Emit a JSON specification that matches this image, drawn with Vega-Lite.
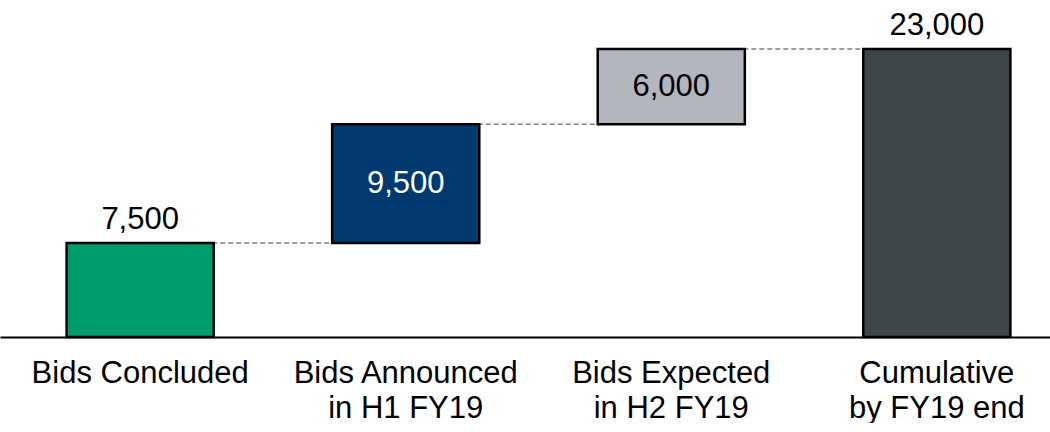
{
  "$schema": "https://vega.github.io/schema/vega-lite/v6.json",
  "width": 1050,
  "height": 337,
  "padding": 0,
  "background": "white",
  "config": {"view": {"stroke": null}, "font": "Liberation Sans"},
  "datasets": {
    "bars": [
      {"step": "Bids Concluded", "start": 0, "end": 7500, "amount": "7,500", "kind": "outside", "fill": "#009C6D", "textColor": "black"},
      {"step": "Bids Announced in H1 FY19", "start": 7500, "end": 17000, "amount": "9,500", "kind": "inside", "fill": "#003A70", "textColor": "white"},
      {"step": "Bids Expected in H2 FY19", "start": 17000, "end": 23000, "amount": "6,000", "kind": "inside", "fill": "#B3B6BC", "textColor": "black"},
      {"step": "Cumulative by FY19 end", "start": 0, "end": 23000, "amount": "23,000", "kind": "outside", "fill": "#3E4649", "textColor": "black"}
    ],
    "links": [
      {"from": "Bids Concluded", "to": "Bids Announced in H1 FY19", "level": 7500},
      {"from": "Bids Announced in H1 FY19", "to": "Bids Expected in H2 FY19", "level": 17000},
      {"from": "Bids Expected in H2 FY19", "to": "Cumulative by FY19 end", "level": 23000}
    ]
  },
  "encoding": {
    "x": {
      "field": "step",
      "type": "nominal",
      "sort": null,
      "scale": {
        "domain": ["Bids Concluded", "Bids Announced in H1 FY19", "Bids Expected in H2 FY19", "Cumulative by FY19 end"],
        "paddingInner": 0.446,
        "paddingOuter": 0.2,
        "align": 0.627
      },
      "axis": {
        "title": null,
        "ticks": false,
        "domainColor": "black",
        "domainWidth": 2,
        "labelAngle": 0,
        "labelColor": "black",
        "labelFont": "Liberation Sans",
        "labelFontSize": 31,
        "labelLimit": 0,
        "labelPadding": 21,
        "labelLineHeight": 35,
        "labelBaseline": "top",
        "labelExpr": "datum.value == 'Bids Announced in H1 FY19' ? ['Bids Announced', 'in H1 FY19'] : datum.value == 'Bids Expected in H2 FY19' ? ['Bids Expected', 'in H2 FY19'] : datum.value == 'Cumulative by FY19 end' ? ['Cumulative', 'by FY19 end'] : datum.value"
      }
    }
  },
  "layer": [
    {
      "data": {"name": "links"},
      "mark": {"type": "rule", "color": "#7F7F7F", "strokeWidth": 1.5, "strokeDash": [5, 3]},
      "encoding": {
        "x": {"field": "from", "type": "nominal"},
        "x2": {"field": "to"},
        "y": {"field": "level", "type": "quantitative", "scale": {"domain": [0, 26913], "nice": false, "zero": true}, "axis": null}
      }
    },
    {
      "data": {"name": "bars"},
      "mark": {"type": "bar", "stroke": "black", "strokeWidth": 2.5},
      "encoding": {
        "y": {"field": "start", "type": "quantitative", "scale": {"domain": [0, 26913], "nice": false, "zero": true}, "axis": null},
        "y2": {"field": "end"},
        "fill": {"field": "fill", "type": "nominal", "scale": null}
      }
    },
    {
      "data": {"name": "bars"},
      "transform": [{"filter": "datum.kind == 'outside'"}],
      "mark": {"type": "text", "fontSize": 31, "font": "Liberation Sans", "baseline": "alphabetic", "dy": -14},
      "encoding": {
        "y": {"field": "end", "type": "quantitative"},
        "text": {"field": "amount"},
        "color": {"field": "textColor", "type": "nominal", "scale": null}
      }
    },
    {
      "data": {"name": "bars"},
      "transform": [{"filter": "datum.kind == 'inside'"}, {"calculate": "(datum.start + datum.end) / 2", "as": "mid"}],
      "mark": {"type": "text", "fontSize": 31, "font": "Liberation Sans", "baseline": "middle"},
      "encoding": {
        "y": {"field": "mid", "type": "quantitative"},
        "text": {"field": "amount"},
        "color": {"field": "textColor", "type": "nominal", "scale": null}
      }
    }
  ]
}
